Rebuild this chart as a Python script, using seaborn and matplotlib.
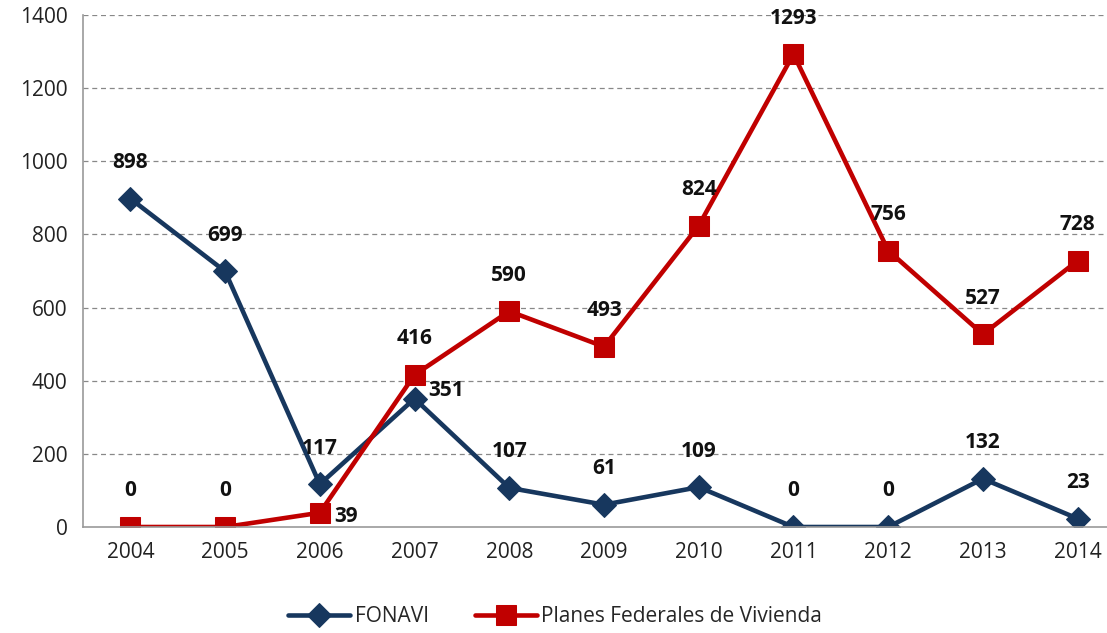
import numpy as np
import pandas as pd
import matplotlib
matplotlib.use('Agg')
import matplotlib.pyplot as plt
import seaborn as sns

years = ['2004', '2005', '2006', '2007', '2008', '2009', '2010', '2011', '2012', '2013', '2014']
fonavi = [898, 699, 117, 351, 107, 61, 109, 0, 0, 132, 23]
planes = [0, 0, 39, 416, 590, 493, 824, 1293, 756, 527, 728]

sns.set_style('white')
plt.rcParams['font.family'] = ['Open Sans', 'DejaVu Sans']

blue = '#17375E'
red = '#C00000'

fig = plt.figure(figsize=(11.07, 6.33), dpi=100)
ax = fig.add_axes([83/1107, 106/633, 1042/1107, 512/633])

df = pd.DataFrame({'x': np.arange(len(years)), 'FONAVI': fonavi, 'Planes': planes})

sns.lineplot(data=df, x='x', y='FONAVI', ax=ax, color=blue, lw=3.3, marker='D',
             markersize=12, markeredgecolor=blue, label='FONAVI')
sns.lineplot(data=df, x='x', y='Planes', ax=ax, color=red, lw=3.3, marker='s',
             markersize=15, markeredgecolor=red, label='Planes Federales de Vivienda')

ax.set_xlim(-0.5, len(years) - 0.5)
ax.set_ylim(0, 1400)
ax.set_yticks(range(0, 1401, 200))
ax.set_xticks(range(len(years)))
ax.set_xticklabels(years)
ax.set_xticks(np.arange(-0.5, len(years), 1), minor=True)
ax.tick_params(axis='x', which='major', length=0, pad=11, labelsize=15, colors='#222222')
ax.tick_params(axis='x', which='minor', length=7, width=1, color='#999999', direction='out')
ax.tick_params(axis='y', length=6, width=1, color='#999999', labelcolor='#222222',
               labelsize=15, pad=5)
ax.set_xlabel('')
ax.set_ylabel('')

for y in range(200, 1401, 200):
    ax.axhline(y, color='#888888', lw=0.9, ls=(0, (4, 3)), zorder=0)

for s in ['top', 'right']:
    ax.spines[s].set_visible(False)
for s in ['left', 'bottom']:
    ax.spines[s].set_color('#999999')
    ax.spines[s].set_linewidth(1.2)

def lab(i, v, dx=0, dy=36, ha='center', va='center'):
    ax.annotate(str(v), (i, v), xytext=(dx, dy), textcoords='offset pixels',
                ha=ha, va=va, fontsize=15, fontweight='bold', color='#111111')

for i, v in enumerate(fonavi):
    if years[i] == '2007':
        lab(i, v, dx=14, dy=8, ha='left')
    elif v > 0 or years[i] in ('2011', '2012'):
        lab(i, v)
for i, v in enumerate(planes):
    if years[i] == '2006':
        lab(i, v, dx=14, dy=-4, ha='left')
    elif years[i] in ('2004', '2005') or v > 0:
        lab(i, v)

leg = ax.legend(loc='center', bbox_to_anchor=(555/1107, 16/633), bbox_transform=fig.transFigure,
                ncol=2, frameon=False, fontsize=15, handlelength=3, columnspacing=2.2,
                handletextpad=0.2)

fig.savefig('out.png', dpi=100)
